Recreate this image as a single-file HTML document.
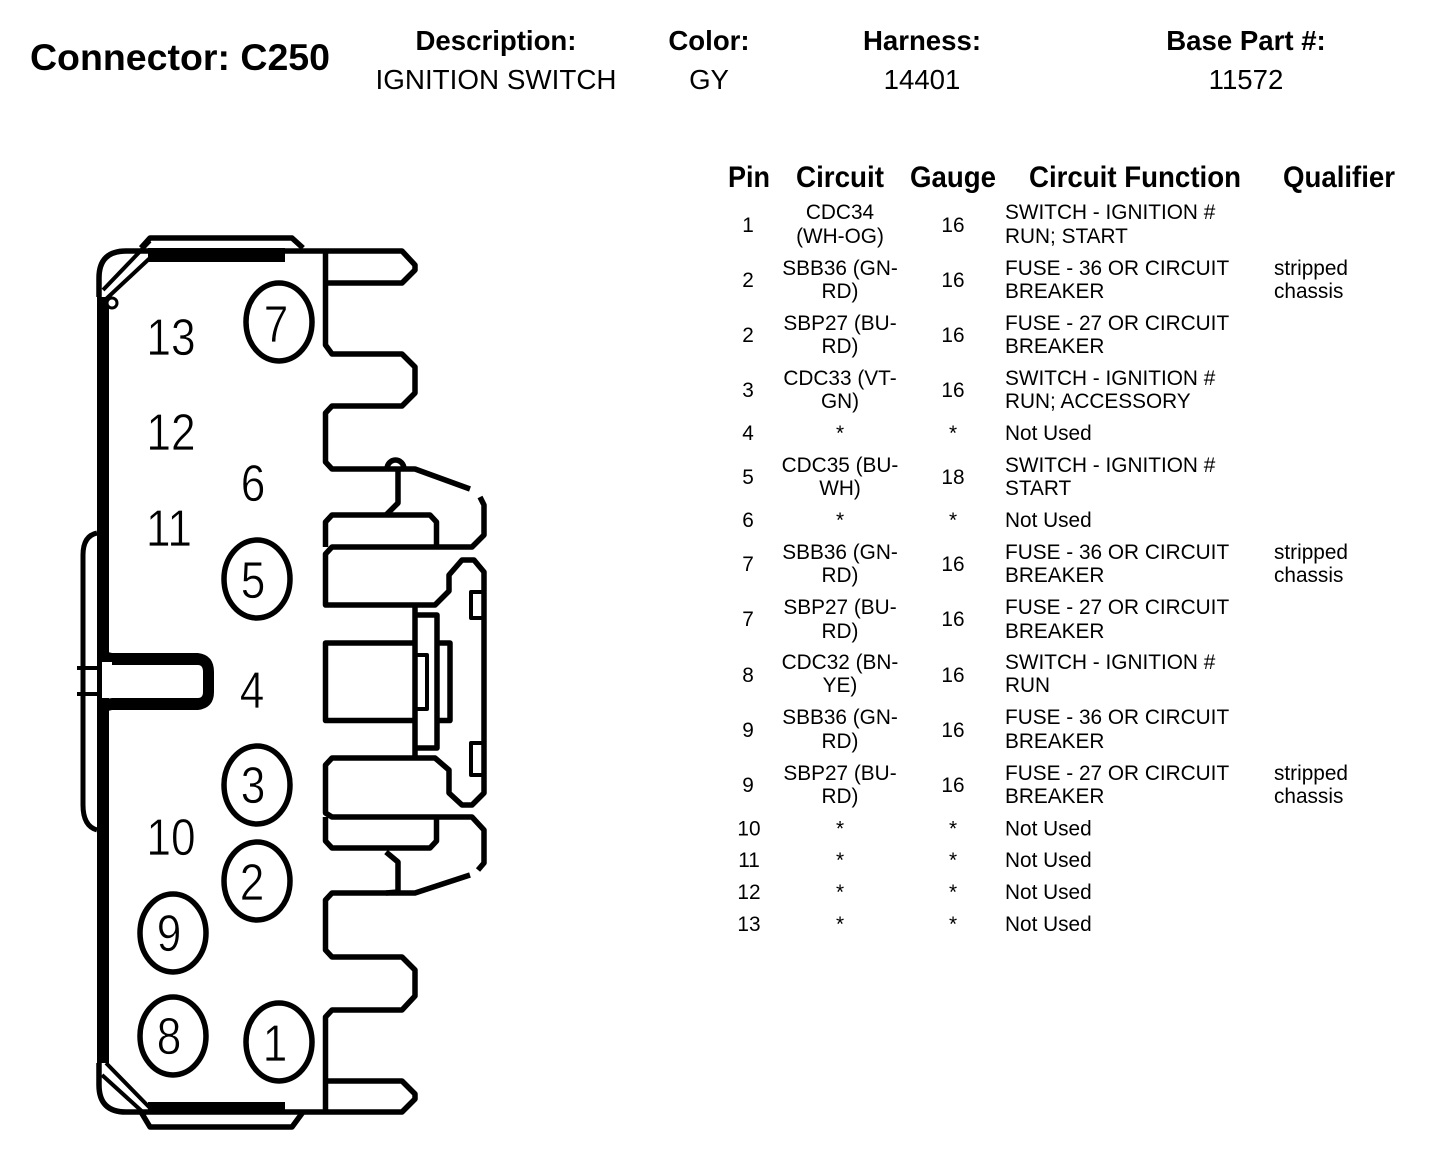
<!DOCTYPE html>
<html><head><meta charset="utf-8"><style>
html,body{margin:0;padding:0;background:#fff;width:1440px;height:1166px;overflow:hidden}
svg{display:block}
text{font-family:"Liberation Sans",Arial,sans-serif;fill:#000}
.t{font-size:20.8px}.m{text-anchor:middle}
.h{font-size:27.6px}.th{font-size:29.5px;font-weight:bold;text-anchor:middle}.b{font-weight:bold}
.d{font-size:52px;text-anchor:middle;stroke:#fff;stroke-width:.7}
.l{fill:none;stroke:#000;stroke-width:5.5;stroke-linejoin:round}
.n{fill:none;stroke:#000;stroke-width:4;stroke-linejoin:round}
</style></head><body>
<svg width="1440" height="1166" viewBox="0 0 1440 1166" xmlns="http://www.w3.org/2000/svg">
<rect width="1440" height="1166" fill="#fff"/>
<text x="180" y="70" class="b m" style="font-size:37.5px">Connector: C250</text>
<text x="496" y="50" class="h b m">Description:</text><text x="496" y="89" class="h m" textLength="241" lengthAdjust="spacingAndGlyphs">IGNITION SWITCH</text>
<text x="709" y="50" class="h b m">Color:</text><text x="709" y="89" class="h m">GY</text>
<text x="922" y="50" class="h b m">Harness:</text><text x="922" y="89" class="h m">14401</text>
<text x="1246" y="50" class="h b m">Base Part #:</text><text x="1246" y="89" class="h m">11572</text>
<text x="749" y="187" class="th" textLength="42" lengthAdjust="spacingAndGlyphs">Pin</text><text x="840" y="187" class="th" textLength="88" lengthAdjust="spacingAndGlyphs">Circuit</text><text x="953" y="187" class="th" textLength="86" lengthAdjust="spacingAndGlyphs">Gauge</text><text x="1135" y="187" class="th" textLength="212" lengthAdjust="spacingAndGlyphs">Circuit Function</text><text x="1339" y="187" class="th" textLength="112" lengthAdjust="spacingAndGlyphs">Qualifier</text>

<g>
<text class="t m" x="748" y="232">1</text><text class="t m" x="840" y="219">CDC34</text><text class="t m" x="840" y="243">(WH-OG)</text><text class="t m" x="953" y="232">16</text><text class="t" x="1005" y="219">SWITCH - IGNITION #</text><text class="t" x="1005" y="243">RUN; START</text>
<text class="t m" x="748" y="287">2</text><text class="t m" x="840" y="275">SBB36 (GN-</text><text class="t m" x="840" y="298">RD)</text><text class="t m" x="953" y="287">16</text><text class="t" x="1005" y="275">FUSE - 36 OR CIRCUIT</text><text class="t" x="1005" y="298">BREAKER</text><text class="t" x="1274" y="275">stripped</text><text class="t" x="1274" y="298">chassis</text>
<text class="t m" x="748" y="342">2</text><text class="t m" x="840" y="330">SBP27 (BU-</text><text class="t m" x="840" y="353">RD)</text><text class="t m" x="953" y="342">16</text><text class="t" x="1005" y="330">FUSE - 27 OR CIRCUIT</text><text class="t" x="1005" y="353">BREAKER</text>
<text class="t m" x="748" y="397">3</text><text class="t m" x="840" y="385">CDC33 (VT-</text><text class="t m" x="840" y="408">GN)</text><text class="t m" x="953" y="397">16</text><text class="t" x="1005" y="385">SWITCH - IGNITION #</text><text class="t" x="1005" y="408">RUN; ACCESSORY</text>
<text class="t m" x="748" y="440">4</text><text class="t m" x="840" y="440">*</text><text class="t m" x="953" y="440">*</text><text class="t" x="1005" y="440">Not Used</text>
<text class="t m" x="748" y="484">5</text><text class="t m" x="840" y="472">CDC35 (BU-</text><text class="t m" x="840" y="495">WH)</text><text class="t m" x="953" y="484">18</text><text class="t" x="1005" y="472">SWITCH - IGNITION #</text><text class="t" x="1005" y="495">START</text>
<text class="t m" x="748" y="527">6</text><text class="t m" x="840" y="527">*</text><text class="t m" x="953" y="527">*</text><text class="t" x="1005" y="527">Not Used</text>
<text class="t m" x="748" y="571">7</text><text class="t m" x="840" y="559">SBB36 (GN-</text><text class="t m" x="840" y="582">RD)</text><text class="t m" x="953" y="571">16</text><text class="t" x="1005" y="559">FUSE - 36 OR CIRCUIT</text><text class="t" x="1005" y="582">BREAKER</text><text class="t" x="1274" y="559">stripped</text><text class="t" x="1274" y="582">chassis</text>
<text class="t m" x="748" y="626">7</text><text class="t m" x="840" y="614">SBP27 (BU-</text><text class="t m" x="840" y="638">RD)</text><text class="t m" x="953" y="626">16</text><text class="t" x="1005" y="614">FUSE - 27 OR CIRCUIT</text><text class="t" x="1005" y="638">BREAKER</text>
<text class="t m" x="748" y="682">8</text><text class="t m" x="840" y="669">CDC32 (BN-</text><text class="t m" x="840" y="692">YE)</text><text class="t m" x="953" y="682">16</text><text class="t" x="1005" y="669">SWITCH - IGNITION #</text><text class="t" x="1005" y="692">RUN</text>
<text class="t m" x="748" y="737">9</text><text class="t m" x="840" y="724">SBB36 (GN-</text><text class="t m" x="840" y="748">RD)</text><text class="t m" x="953" y="737">16</text><text class="t" x="1005" y="724">FUSE - 36 OR CIRCUIT</text><text class="t" x="1005" y="748">BREAKER</text>
<text class="t m" x="748" y="792">9</text><text class="t m" x="840" y="780">SBP27 (BU-</text><text class="t m" x="840" y="803">RD)</text><text class="t m" x="953" y="792">16</text><text class="t" x="1005" y="780">FUSE - 27 OR CIRCUIT</text><text class="t" x="1005" y="803">BREAKER</text><text class="t" x="1274" y="780">stripped</text><text class="t" x="1274" y="803">chassis</text>
<text class="t m" x="749" y="835.5">10</text><text class="t m" x="840" y="835.5">*</text><text class="t m" x="953" y="835.5">*</text><text class="t" x="1005" y="835.5">Not Used</text>
<text class="t m" x="749" y="867">11</text><text class="t m" x="840" y="867">*</text><text class="t m" x="953" y="867">*</text><text class="t" x="1005" y="867">Not Used</text>
<text class="t m" x="749" y="899">12</text><text class="t m" x="840" y="899">*</text><text class="t m" x="953" y="899">*</text><text class="t" x="1005" y="899">Not Used</text>
<text class="t m" x="749" y="931">13</text><text class="t m" x="840" y="931">*</text><text class="t m" x="953" y="931">*</text><text class="t" x="1005" y="931">Not Used</text>
</g>

<!-- connector body -->
<rect x="97" y="297" width="12" height="766" fill="#000"/>
<rect x="148" y="248" width="137" height="14" fill="#000"/>
<rect x="148" y="1102" width="137" height="11" fill="#000"/>
<path class="l" d="M99 297V278Q99 251 126 251H402L415 265V270L402 283H325.5M325.5 251V345L332 354H402L415 367V393L402 406H332L325.5 413V462L332 469H415L470 489"/>
<path class="l" d="M480 497L484 505V535L472 547H332L325.5 554V605H435L449 591V575L462 560H474L484 572V793L472 805H462L449 793V770L435 758H332L325.5 765V813L332 817H472L484 830V863L478 870"/>
<path class="l" d="M470 875L415 893H332L325.5 900V950L332 957H402L415 970V996L402 1010H332L325.5 1017V1110"/>
<path class="l" d="M325.5 1081H402L415 1094V1099L402 1112H126Q99 1112 99 1085V1063"/>
<!-- top/bottom ribs -->
<path class="l" d="M141 248L150 238H292L303 248M141 1112L150 1127H292L303 1112"/>
<path class="n" d="M150 241L103 290M150 258L105 300M106 1063L150 1108M102 1075L146 1115"/>
<circle cx="112" cy="303" r="5" fill="#fff" stroke="#000" stroke-width="3"/>
<!-- latch -->
<path class="l" d="M387 469A8.5 9 0 1 1 404 469M398 469V503L386 515"/>
<path class="l" d="M325.5 547V522L332 515H430L436.5 522V547M325.5 817V841L332 848H430L436.5 841V817M386 852L398 862V892L386 893"/>
<!-- centre -->
<path class="l" d="M415 605V758M415 643H325.5V720.5H415"/>
<path class="l" d="M416 615H437V748H416M437 643H450V720.5H437"/>
<path class="n" d="M416 655H427V709H416M484 592H471V618H484M484 743H471V775H484"/>
<!-- left arc + key -->
<path class="l" style="stroke-width:5" d="M97 533Q83 536 83 555V805Q83 826 97 830"/>
<path class="n" d="M77 668H97M77 694H97"/>
<path d="M100 650L112 653H198Q214 655 214 672V692Q214 708 198 710H112L100 713V700L112 698H198Q203 698 203 692V672Q203 665 198 665H112L100 660Z" fill="#000"/>
<rect x="102" y="662" width="10" height="36" fill="#fff"/>
<!-- pin circles -->
<ellipse class="l" cx="279" cy="322" rx="33" ry="39"/>
<ellipse class="l" cx="257" cy="579" rx="33" ry="39"/>
<ellipse class="l" cx="257" cy="785" rx="33" ry="39"/>
<ellipse class="l" cx="257" cy="881" rx="33" ry="39"/>
<ellipse class="l" cx="173" cy="933" rx="33" ry="39"/>
<ellipse class="l" cx="173" cy="1036" rx="33" ry="39"/>
<ellipse class="l" cx="279" cy="1042" rx="33" ry="39"/>
<text class="d" transform="translate(171,355) scale(.85,1)">13</text>
<text class="d" transform="translate(171,450) scale(.85,1)">12</text>
<text class="d" transform="translate(169,546) scale(.85,1)">11</text>
<text class="d" transform="translate(171,855) scale(.85,1)">10</text>
<text class="d" transform="translate(253,501) scale(.85,1)">6</text>
<text class="d" transform="translate(252,708) scale(.85,1)">4</text>
<text class="d" transform="translate(276,342) scale(.85,1)">7</text>
<text class="d" transform="translate(253,598) scale(.85,1)">5</text>
<text class="d" transform="translate(253,803) scale(.85,1)">3</text>
<text class="d" transform="translate(252,900) scale(.85,1)">2</text>
<text class="d" transform="translate(169,951) scale(.85,1)">9</text>
<text class="d" transform="translate(169,1054) scale(.85,1)">8</text>
<text class="d" transform="translate(275,1061) scale(.85,1)">1</text>
</svg>
</body></html>
